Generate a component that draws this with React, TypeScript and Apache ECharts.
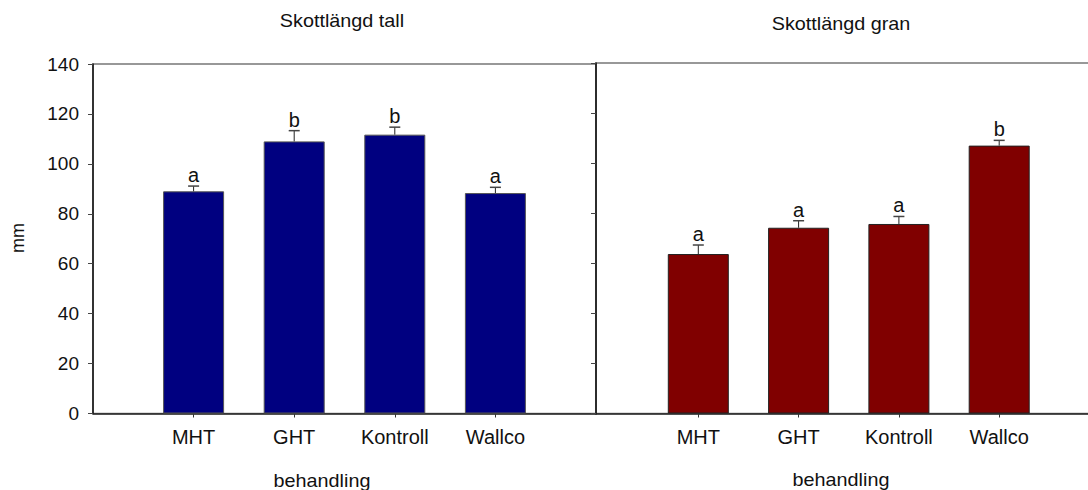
import React, { useEffect, useRef } from "react";
import * as echarts from "echarts";

const FONT = "'Liberation Sans', Arial, Helvetica, sans-serif";

// Treatments (shared by both panels)
const categories = ["MHT", "GHT", "Kontroll", "Wallco"];

// Shoot length, pine (tall)
const tallMeans = [89, 109, 111.7, 88.3];
const tallErrors = [2.1, 4.3, 3.0, 2.3];
const tallLetters = ["a", "b", "b", "a"];

// Shoot length, spruce (gran)
const granMeans = [63.7, 74.2, 75.7, 107];
const granErrors = [3.6, 2.8, 3.0, 2.1];
const granLetters = ["a", "a", "a", "b"];

const yTicks = { min: 0, max: 140, interval: 20 };

function barData(means: number[]) {
  return means.map((m, i) => [i + 1, m]);
}

function errData(means: number[], errs: number[]) {
  return means.map((m, i) => [i + 1, m, errs[i]]);
}

function errorRenderer(letters: string[]) {
  return (params: any, api: any) => {
    const x = api.value(0);
    const y = api.value(1);
    const e = api.value(2);
    const base = api.coord([x, y]);
    const top = api.coord([x, y + e]);
    return {
      type: "group",
      children: [
        {
          type: "line",
          shape: { x1: base[0], y1: base[1], x2: top[0], y2: top[1] },
          style: { stroke: "#222", lineWidth: 1 },
        },
        {
          type: "line",
          shape: { x1: top[0] - 5.5, y1: top[1], x2: top[0] + 5.5, y2: top[1] },
          style: { stroke: "#444", lineWidth: 1.5 },
        },
        {
          type: "text",
          x: top[0],
          y: top[1] - 1,
          style: {
            text: letters[params.dataIndex],
            fontSize: 20,
            fontFamily: FONT,
            fill: "#111",
            align: "center",
            verticalAlign: "bottom",
          },
        },
      ],
    };
  };
}

// Treatment positions 1..4 on a value axis, so the spacing can run past the frame
function xAxisFor(gridIndex: number, min: number) {
  return {
    type: "value",
    gridIndex,
    min,
    max: 5,
    splitLine: { show: false },
    axisLine: { show: true, onZero: false, lineStyle: { color: "#222", width: 1.5 } },
    axisTick: {
      show: true,
      customValues: [1, 2, 3, 4],
      length: 4,
      lineStyle: { color: "#333" },
    },
    axisLabel: {
      customValues: [1, 2, 3, 4],
      formatter: (v: number) => categories[Math.round(v) - 1] ?? "",
      fontSize: 20,
      fontFamily: FONT,
      color: "#111",
      margin: 13,
    },
  };
}

function yAxisFor(gridIndex: number, labels: boolean) {
  return {
    type: "value",
    gridIndex,
    ...yTicks,
    splitLine: { show: false },
    axisLine: { show: true, onZero: false, lineStyle: { color: "#111", width: 1.5 } },
    axisTick: { show: true, length: 5, lineStyle: { color: "#444" } },
    axisLabel: {
      show: labels,
      fontSize: 19,
      fontFamily: FONT,
      color: "#111",
      margin: 14,
    },
  };
}

export default function App() {
  const ref = useRef<HTMLDivElement>(null);

  useEffect(() => {
    document.body.style.margin = "0";
    if (!ref.current) return;
    const chart = echarts.init(ref.current, null, { renderer: "svg" });

    const caption = (text: string, x: number, y: number) => ({
      type: "text",
      x,
      y,
      scaleX: 1.1,
      style: {
        text,
        fontSize: 18,
        fontFamily: FONT,
        fill: "#111",
        align: "center",
        verticalAlign: "middle",
      },
    });

    chart.setOption({
      animation: false,
      backgroundColor: "#fff",
      grid: [
        {
          left: 596,
          top: 63,
          width: 503.5,
          height: 350.5,
          outerBoundsMode: "none",
          containLabel: false,
          show: true,
          borderColor: "#777",
          borderWidth: 1.5,
          backgroundColor: "transparent",
        },
        {
          left: 93,
          top: 64,
          width: 503,
          height: 349.5,
          outerBoundsMode: "none",
          containLabel: false,
          show: true,
          borderColor: "#777",
          borderWidth: 1.5,
          backgroundColor: "transparent",
        },
      ],
      xAxis: [xAxisFor(0, -0.02), xAxisFor(1, 0)],
      yAxis: [yAxisFor(0, false), yAxisFor(1, true)],
      series: [
        {
          type: "bar",
          xAxisIndex: 0,
          yAxisIndex: 0,
          data: barData(granMeans),
          barWidth: 61,
          itemStyle: { color: "#800000", borderColor: "#222", borderWidth: 1 },
          z: 2,
        },
        {
          type: "custom",
          xAxisIndex: 0,
          yAxisIndex: 0,
          data: errData(granMeans, granErrors),
          renderItem: errorRenderer(granLetters),
          z: 3,
        },
        {
          type: "bar",
          xAxisIndex: 1,
          yAxisIndex: 1,
          data: barData(tallMeans),
          barWidth: 61,
          itemStyle: { color: "#000080", borderColor: "#555", borderWidth: 1 },
          z: 2,
        },
        {
          type: "custom",
          xAxisIndex: 1,
          yAxisIndex: 1,
          data: errData(tallMeans, tallErrors),
          renderItem: errorRenderer(tallLetters),
          z: 3,
        },
      ],
      graphic: [
        caption("Skottlängd tall", 342, 21),
        caption("Skottlängd gran", 841, 24),
        caption("behandling", 322, 481),
        caption("behandling", 841, 480),
        {
          type: "text",
          x: 18,
          y: 238,
          rotation: Math.PI / 2,
          style: {
            text: "mm",
            fontSize: 18,
            fontFamily: FONT,
            fill: "#111",
            align: "center",
            verticalAlign: "middle",
          },
        },
      ],
    });

    return () => chart.dispose();
  }, []);

  return <div ref={ref} style={{ width: 1088, height: 490 }} />;
}
